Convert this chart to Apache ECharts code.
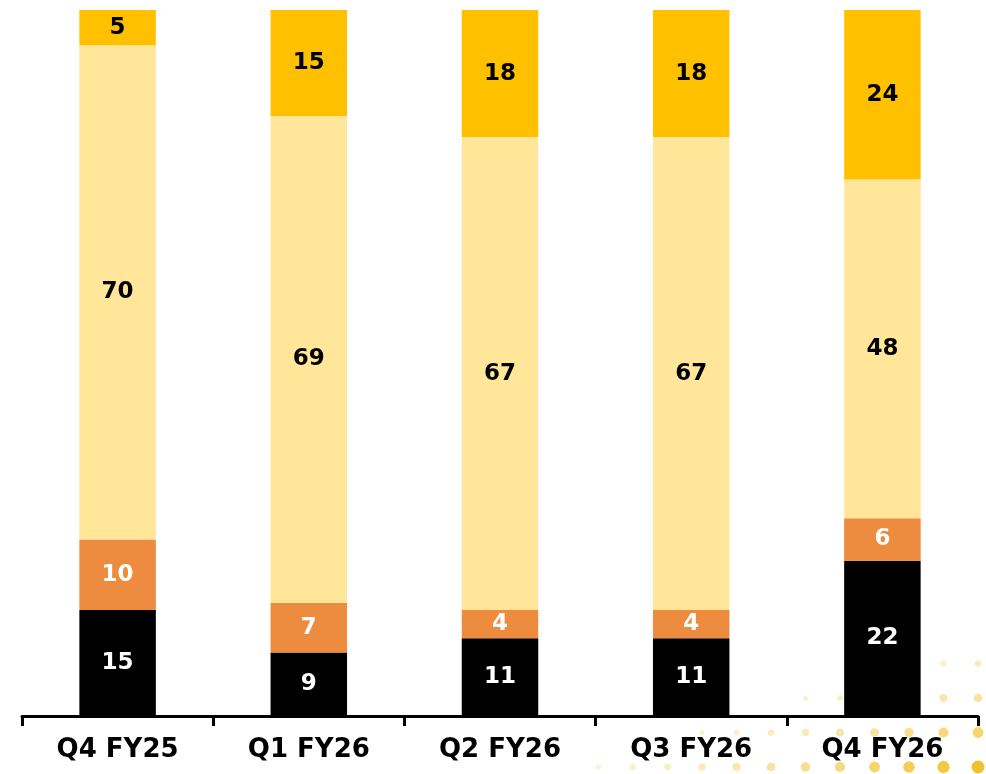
<!DOCTYPE html>
<html>
<head>
<meta charset="utf-8">
<script src="https://cdn.jsdelivr.net/npm/echarts@6/dist/echarts.min.js"></script>
<style>
  html, body { margin: 0; padding: 0; background: #fff; }
  #chart { width: 986px; height: 774px; }
</style>
</head>
<body>
<div id="chart"></div>
<script>
var categories = ['Q4 FY25', 'Q1 FY26', 'Q2 FY26', 'Q3 FY26', 'Q4 FY26'];
var blackVals = [15, 9, 11, 11, 22];
var orangeVals = [10, 7, 4, 4, 6];
var lightVals = [70, 69, 67, 67, 48];
var goldVals = [5, 15, 18, 18, 24];

function seg(name, data, color, textColor) {
    return {
        name: name,
        type: 'bar',
        stack: 'total',
        barWidth: '40%',
        data: data,
        z: 3,
        itemStyle: { color: color },
        label: {
            show: true,
            position: 'inside',
            color: textColor,
            fontFamily: 'DejaVu Sans',
            fontWeight: 'bold',
            fontSize: 23
        }
    };
}

// decorative dot pattern in the bottom-right corner
var dots = [];
for (var j = 0; j < 4; j++) {
    for (var i = 0; i < 12; i++) {
        var k = i + 3 * j;
        if (k > 11) continue;
        var f = 1 - k / 14;
        dots.push({
            type: 'circle',
            shape: { cx: 978 - 34.5 * i, cy: 767 - 34.5 * j, r: 1.5 + 5 * f },
            style: { fill: '#F2C12E', opacity: 0.2 + 0.8 * f * f },
            z: -1,
            silent: true
        });
    }
}

var option = {
    animation: false,
    grid: { left: 22, right: 8, top: 10, bottom: 58 },
    graphic: dots,
    xAxis: {
        type: 'category',
        data: categories,
        z: 4,
        axisLine: { lineStyle: { color: '#000', width: 3 } },
        axisTick: { show: true, length: 10, lineStyle: { color: '#000', width: 3 } },
        axisLabel: {
            color: '#000',
            fontFamily: 'DejaVu Sans',
            fontWeight: 'bold',
            fontSize: 26,
            margin: 21
        }
    },
    yAxis: {
        type: 'value',
        min: 0,
        max: 100,
        show: false,
        splitLine: { show: false }
    },
    series: [
        seg('black', blackVals, '#000000', '#ffffff'),
        seg('orange', orangeVals, '#ED8B3E', '#ffffff'),
        seg('light', lightVals, '#FFE699', '#000000'),
        seg('gold', goldVals, '#FFC000', '#000000')
    ]
};

var myChart = echarts.init(document.getElementById('chart'));
myChart.setOption(option);
</script>
</body>
</html>
